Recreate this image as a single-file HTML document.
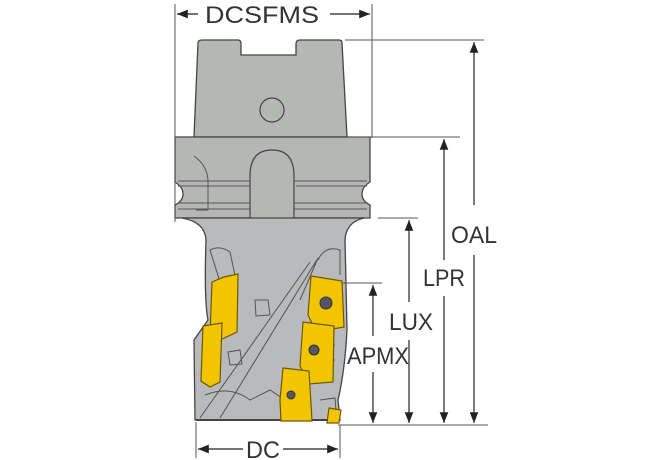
<!DOCTYPE html>
<html><head><meta charset="utf-8"><style>
html,body{margin:0;padding:0;background:#fff;width:670px;height:460px;overflow:hidden}
text{font-family:"Liberation Sans Narrow","Liberation Sans",sans-serif;fill:#333}
</style></head><body>
<svg width="670" height="460" viewBox="0 0 670 460" xmlns="http://www.w3.org/2000/svg">
<defs>
<marker id="a" viewBox="0 0 10 10" refX="10" refY="5" markerWidth="9" markerHeight="9" orient="auto-start-reverse"><path d="M0,1 L10,5 L0,9 z" fill="#222"/></marker>
</defs>
<path d="M198,43 Q198,40 202,40 L238,40 Q241,40 241,44 L241,55 L296,55 L296,44 Q296,40 300,40 L339,40 Q342,40 342,43 L347,137 L194,137 Z" fill="#b5b7b5" stroke="#444" stroke-width="1.3"/>
<circle cx="272" cy="110" r="12" fill="#b5b7b5" stroke="#444" stroke-width="1.2"/>
<path d="M175,137 L370,137 L370,182 Q362,187 362,194 Q362,201 370,205 L370,218 L175,218 L175,205 Q183,201 183,194 Q183,187 175,182 Z" fill="#b5b7b5" stroke="#444" stroke-width="1.3"/>
<path d="M178,181 L367,181 M178,186 L252,186 M296,186 L367,186 M178,203 L367,203 M178,209 L367,209" stroke="#555" stroke-width="1"/>
<path d="M250,218 L250,176 Q250,150 272,150 Q294,150 294,176 L294,218" fill="#b5b7b5" stroke="#444" stroke-width="1.2"/>
<path d="M194,156 Q208,166 208,182 L208,210 L196,210" fill="none" stroke="#555" stroke-width="1"/>
<path d="M182,218 Q205,222 206,240 Q204,300 208,320 L194,340 L195,420 L340,420 L338,400 Q345,370 347,330 L345,240 Q346,222 364,218 Z" fill="#b8babb" stroke="#444" stroke-width="1.3"/>
<path d="M196,420 L340,420" stroke="#444" stroke-width="2"/>
<g fill="none" stroke="#555" stroke-width="1">
<path d="M210,250 Q220,245 230,252 L236,280 L220,282 Z"/>
<path d="M318,260 Q325,245 340,250 L340,275"/>
<path d="M200,418 L310,262 M220,418 L318,258 L300,300"/>
<path d="M255,300 L268,300 L270,315 L256,316 Z"/>
<path d="M228,352 L240,350 L242,364 L230,365 Z"/>
<path d="M205,395 Q230,385 250,400 L270,390 L300,410"/>
<path d="M320,400 L335,398 L336,410"/>
<path d="M325,345 L335,345 M322,360 L335,360"/>
</g>
<g fill="#f2c500" stroke="#6b5a00" stroke-width="1.2">
<path d="M224,277 L238,274 L237,332 L220,340 L210,336 L212,282 Z"/>
<path d="M203,326 L222,323 L220,382 L210,387 L201,381 Z"/>
</g>
<g fill="#f2c500" stroke="#6b5a00" stroke-width="1.2">
<path d="M311,276 L342,281 L344,327 L316,332 L308,315 Z"/>
<path d="M303,322 L334,326 L333,382 L309,384 L300,366 Z"/>
<path d="M283,368 L309,371 L312,421 L281,421 L280,400 Z"/>
<path d="M329,408 L341,410 L339,423 L327,423 Z"/>
</g>
<circle cx="326" cy="303" r="6" fill="#556" stroke="#333"/>
<circle cx="314" cy="350" r="5" fill="#556" stroke="#333"/>
<circle cx="291" cy="395" r="4" fill="#556" stroke="#333"/>
<g stroke="#555" stroke-width="1">
<line x1="175" y1="4" x2="175" y2="222"/>
<line x1="372" y1="4" x2="372" y2="138"/>
<line x1="345" y1="40" x2="484" y2="40"/>
<line x1="348" y1="137" x2="460" y2="137"/>
<line x1="378" y1="218" x2="418" y2="218"/>
<line x1="343" y1="283" x2="382" y2="283"/>
<line x1="338" y1="425" x2="488" y2="425"/>
<line x1="196" y1="422" x2="196" y2="458"/>
<line x1="340" y1="425" x2="340" y2="458"/>
</g>
<g stroke="#222" stroke-width="1.2" fill="none">
<line x1="177" y1="14" x2="198" y2="14" marker-start="url(#a)"/>
<line x1="330" y1="14" x2="370" y2="14" marker-end="url(#a)"/>
<line x1="198" y1="449" x2="243" y2="449" marker-start="url(#a)"/>
<line x1="283" y1="449" x2="338" y2="449" marker-end="url(#a)"/>
<line x1="474" y1="42" x2="474" y2="205" marker-start="url(#a)"/>
<line x1="474" y1="255" x2="474" y2="423" marker-end="url(#a)"/>
<line x1="444" y1="139" x2="444" y2="260" marker-start="url(#a)"/>
<line x1="444" y1="296" x2="444" y2="423" marker-end="url(#a)"/>
<line x1="409" y1="220" x2="409" y2="302" marker-start="url(#a)"/>
<line x1="409" y1="340" x2="409" y2="423" marker-end="url(#a)"/>
<line x1="373" y1="285" x2="373" y2="336" marker-start="url(#a)"/>
<line x1="373" y1="372" x2="373" y2="423" marker-end="url(#a)"/>
</g>
<g font-size="24">
<text x="262" y="23" text-anchor="middle" textLength="114" lengthAdjust="spacingAndGlyphs">DCSFMS</text>
<text x="263" y="458" text-anchor="middle" textLength="34" lengthAdjust="spacingAndGlyphs">DC</text>
<text x="474" y="243" text-anchor="middle" textLength="46" lengthAdjust="spacingAndGlyphs">OAL</text>
<text x="444" y="286" text-anchor="middle" textLength="42" lengthAdjust="spacingAndGlyphs">LPR</text>
<text x="411" y="330" text-anchor="middle" textLength="44" lengthAdjust="spacingAndGlyphs">LUX</text>
<text x="378" y="364" text-anchor="middle" textLength="62" lengthAdjust="spacingAndGlyphs">APMX</text>
</g>
</svg>
</body></html>
